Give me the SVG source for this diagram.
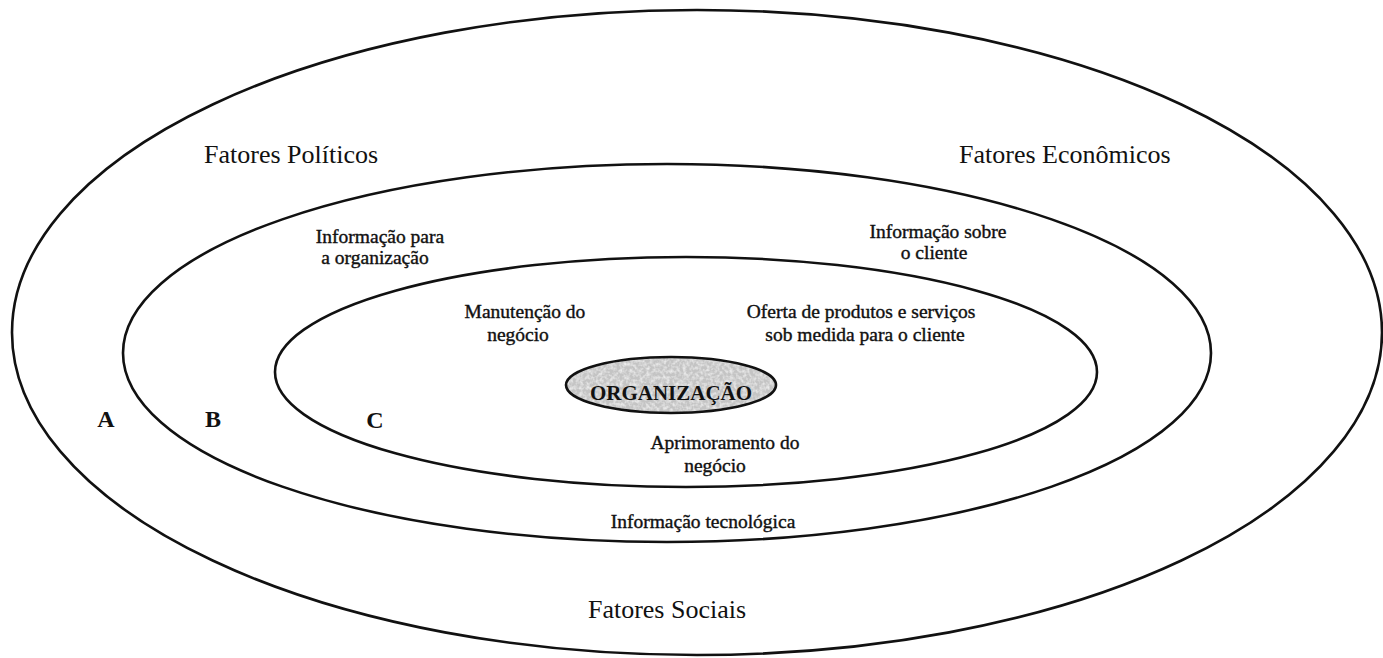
<svg xmlns="http://www.w3.org/2000/svg" width="1383" height="658" viewBox="0 0 1383 658">
  <style>
    .ring { fill: none; stroke: #111; stroke-width: 2.6; }
    .big { font-family: "Liberation Serif", "Times New Roman", serif; font-size: 26px; fill: #111; }
    .small { font-family: "Liberation Serif", "Times New Roman", serif; font-size: 19.5px; fill: #111; stroke: #111; stroke-width: 0.4; text-anchor: middle; }
    .letter { font-family: "Liberation Serif", "Times New Roman", serif; font-size: 24px; font-weight: bold; fill: #111; text-anchor: middle; }
    .core { font-family: "Liberation Serif", "Times New Roman", serif; font-size: 21px; font-weight: bold; fill: #111; text-anchor: middle; }
  </style>
  <defs>
    <!-- grainy grey shading for the core ellipse -->
    <filter id="grain" x="0" y="0" width="100%" height="100%">
      <feTurbulence type="fractalNoise" baseFrequency="0.3" numOctaves="2" seed="3" result="n"/>
      <feColorMatrix in="n" type="matrix" values="0 0 0 0 0.93  0 0 0 0 0.93  0 0 0 0 0.93  0 0 0 1.6 -0.6" result="g"/>
      <feComposite in="g" in2="SourceGraphic" operator="in" result="gc"/>
      <feMerge><feMergeNode in="SourceGraphic"/><feMergeNode in="gc"/></feMerge>
    </filter>
  </defs>

  <rect width="1383" height="658" fill="#ffffff"/>

  <!-- A: external environment -->
  <g id="ring-a">
    <ellipse class="ring" cx="697" cy="332.5" rx="685" ry="322.5"/>
    <text class="big" x="204" y="163">Fatores Políticos</text>
    <text class="big" x="959" y="163">Fatores Econômicos</text>
    <text class="big" x="667" y="618" text-anchor="middle">Fatores Sociais</text>
    <text class="letter" x="106" y="427">A</text>
  </g>

  <!-- B: information layer -->
  <g id="ring-b">
    <ellipse class="ring" cx="667" cy="353" rx="544" ry="189"/>
    <text class="small" x="380" y="243">Informação para</text>
    <text class="small" x="375" y="264">a organização</text>
    <text class="small" x="938" y="238">Informação sobre</text>
    <text class="small" x="934" y="259">o cliente</text>
    <text class="small" x="703" y="528">Informação tecnológica</text>
    <text class="letter" x="213" y="427">B</text>
  </g>

  <!-- C: business activities -->
  <g id="ring-c">
    <ellipse class="ring" cx="686" cy="372" rx="411" ry="115"/>
    <text class="small" x="525" y="318">Manutenção do</text>
    <text class="small" x="518" y="341">negócio</text>
    <text class="small" x="861" y="318">Oferta de produtos e serviços</text>
    <text class="small" x="865" y="341">sob medida para o cliente</text>
    <text class="small" x="725" y="449">Aprimoramento do</text>
    <text class="small" x="715" y="472">negócio</text>
    <text class="letter" x="375" y="428">C</text>
  </g>

  <!-- core -->
  <g id="organizacao">
    <ellipse cx="671" cy="385" rx="105" ry="28" fill="#c4c4c4" filter="url(#grain)"/>
    <ellipse cx="671" cy="385" rx="105" ry="28" fill="none" stroke="#111" stroke-width="2.6"/>
    <text class="core" x="671" y="400">ORGANIZAÇÃO</text>
  </g>

  <g id="connectors"/>
</svg>
